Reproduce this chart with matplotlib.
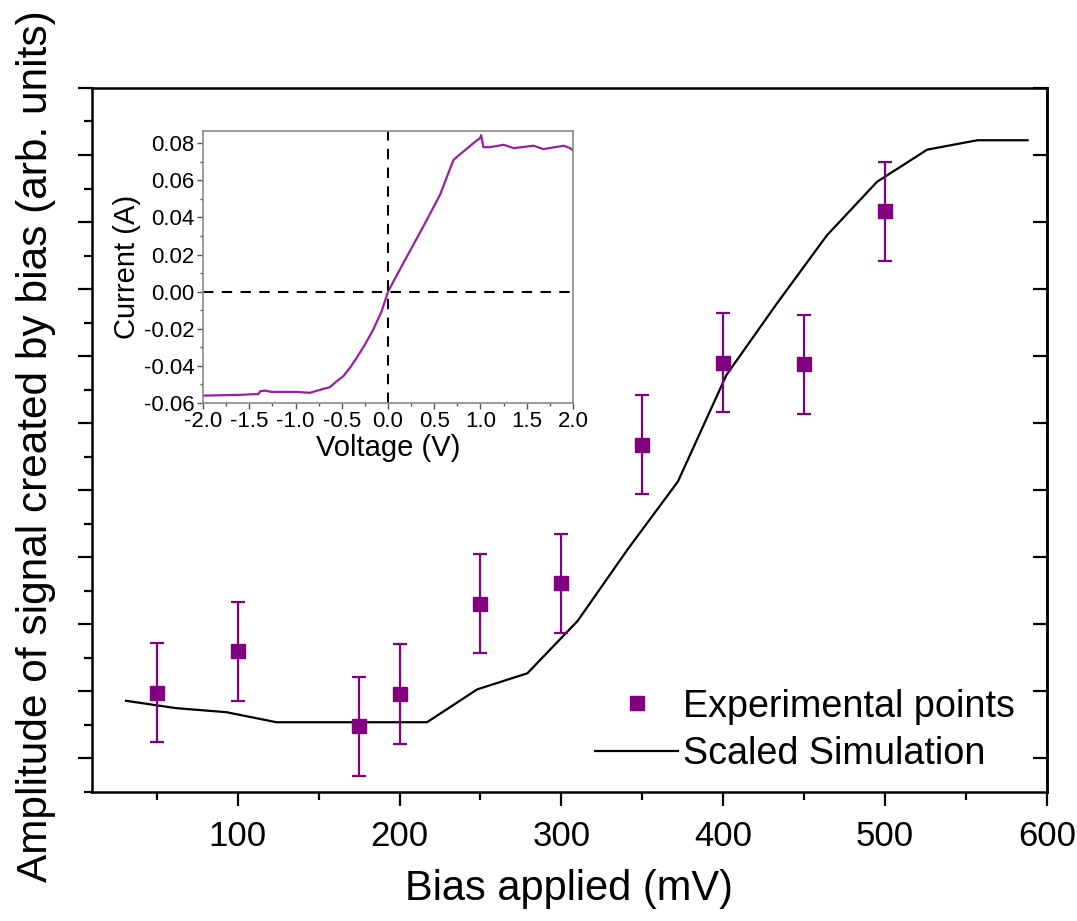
"""
Bias sweep: measured signal amplitude vs scaled simulation, with I-V inset
"""
import matplotlib.pyplot as plt
from matplotlib.ticker import MultipleLocator

plt.rcParams['font.family'] = ['Liberation Sans', 'DejaVu Sans']

# experimental points
bias_exp = [50, 100, 175, 200, 250, 300, 350, 400, 450, 500]  # [mV]
amp_exp = [1.98, 2.60, 1.48, 1.96, 3.31, 3.61, 5.68, 6.90, 6.88, 9.16]
amp_err = [0.74, 0.74, 0.74, 0.74, 0.74, 0.74, 0.74, 0.74, 0.74, 0.74]

# scaled simulation
bias_sim = [31, 62, 93, 124, 155, 186, 217, 248, 279, 310, 341, 372,
            402, 433, 464, 495, 526, 557, 588]
amp_sim = [1.86, 1.75, 1.69, 1.54, 1.54, 1.54, 1.54, 2.03, 2.27, 3.05,
           4.12, 5.13, 6.72, 7.78, 8.80, 9.60, 10.08, 10.22, 10.22]

# inset I-V curve
volt = [-2.0, -1.60, -1.40, -1.38, -1.33, -1.26, -0.99, -0.845, -0.70,
        -0.63, -0.556, -0.484, -0.412, -0.339, -0.249, -0.159, -0.069,
        0.0, 0.166, 0.383, 0.563, 0.708, 0.816, 0.924, 0.996, 1.007,
        1.032, 1.10, 1.25, 1.36, 1.575, 1.68, 1.90, 1.97, 2.0]
curr = [-0.0560, -0.0556, -0.0551, -0.0536, -0.0533, -0.0540, -0.0540,
        -0.0545, -0.0524, -0.0515, -0.0483, -0.0456, -0.0411, -0.0357,
        -0.0285, -0.0204, -0.0106, 0.0, 0.0154, 0.0352, 0.0522, 0.0710,
        0.0755, 0.0800, 0.0827, 0.0843, 0.0778, 0.0778, 0.0791, 0.0773,
        0.0786, 0.0768, 0.0786, 0.0773, 0.0760]

purple = '#800080'

fig = plt.figure(figsize=(10.77, 9.21), dpi=100)
ax = fig.add_axes([0.0854, 0.1401, 0.8867, 0.7644])

ax.errorbar(bias_exp, amp_exp, yerr=amp_err, fmt='none', ecolor=purple,
            elinewidth=1.6, capsize=5, capthick=1.6, zorder=3)
ax.plot(bias_exp, amp_exp, 's', color=purple, markersize=10.5,
        label='Experimental points', zorder=4)
ax.plot(bias_sim, amp_sim, '-', color='black', linewidth=1.6,
        label='Scaled Simulation', zorder=2)

ax.set_xlim(10, 600)
ax.set_ylim(0.5, 11)
ax.xaxis.set_major_locator(MultipleLocator(100))
ax.xaxis.set_minor_locator(MultipleLocator(50))
ax.yaxis.set_major_locator(MultipleLocator(1))
ax.yaxis.set_minor_locator(MultipleLocator(0.5))
ax.tick_params(axis='x', which='both', direction='out', top=False,
               labelsize=25, pad=10)
ax.tick_params(axis='y', which='both', direction='out', right=False,
               labelleft=False)
ax.tick_params(which='major', length=10, width=1.6)
ax.tick_params(which='minor', length=6, width=1.6)
for sp in ax.spines.values():
    sp.set_linewidth(1.8)

# inward major ticks on the right spine
ax_r = ax.secondary_yaxis('right')
ax_r.yaxis.set_major_locator(MultipleLocator(1))
ax_r.tick_params(direction='in', length=10, width=1.6, labelright=False)
ax_r.spines['right'].set_linewidth(1.8)

ax.set_xlabel('Bias applied (mV)', fontsize=30, labelpad=12)
ax.set_ylabel('Amplitude of signal created by bias (arb. units)',
              fontsize=30.5)
ax.yaxis.set_label_coords(-0.038, 0.4915)

ax.legend(loc='lower right', bbox_to_anchor=(1.002, -0.02), frameon=False,
          fontsize=27.2, handlelength=2.2, handletextpad=0.12,
          labelspacing=0.30, borderpad=0.4)

# inset
ins = fig.add_axes([0.1885, 0.5624, 0.3435, 0.2953])
ins.plot(volt, curr, color='#9a1fa3', linewidth=1.6)
ins.axhline(0, color='black', linestyle='--', linewidth=1.5, dashes=(5, 4))
ins.axvline(0, color='black', linestyle='--', linewidth=1.5, dashes=(5, 4))
ins.set_xlim(-2.0, 2.0)
ins.set_ylim(-0.06, 0.0865)
ins.xaxis.set_major_locator(MultipleLocator(0.5))
ins.xaxis.set_minor_locator(MultipleLocator(0.25))
ins.yaxis.set_major_locator(MultipleLocator(0.02))
ins.yaxis.set_minor_locator(MultipleLocator(0.01))
ins.xaxis.set_major_formatter(lambda v, p: f'{v:.1f}')
ins.yaxis.set_major_formatter(lambda v, p: f'{v:.2f}')
ins.tick_params(which='both', direction='out', top=False, right=False,
                labelsize=16, color='#555555', pad=2)
ins.tick_params(which='major', length=4, width=1)
ins.tick_params(which='minor', length=2, width=1)
for sp in ins.spines.values():
    sp.set_color('#8a8a8a')
    sp.set_linewidth(1.2)
ins.set_xlabel('Voltage (V)', fontsize=21, labelpad=1)
ins.set_ylabel('Current (A)', fontsize=21, labelpad=2)

fig.savefig('out.png', dpi=100)
